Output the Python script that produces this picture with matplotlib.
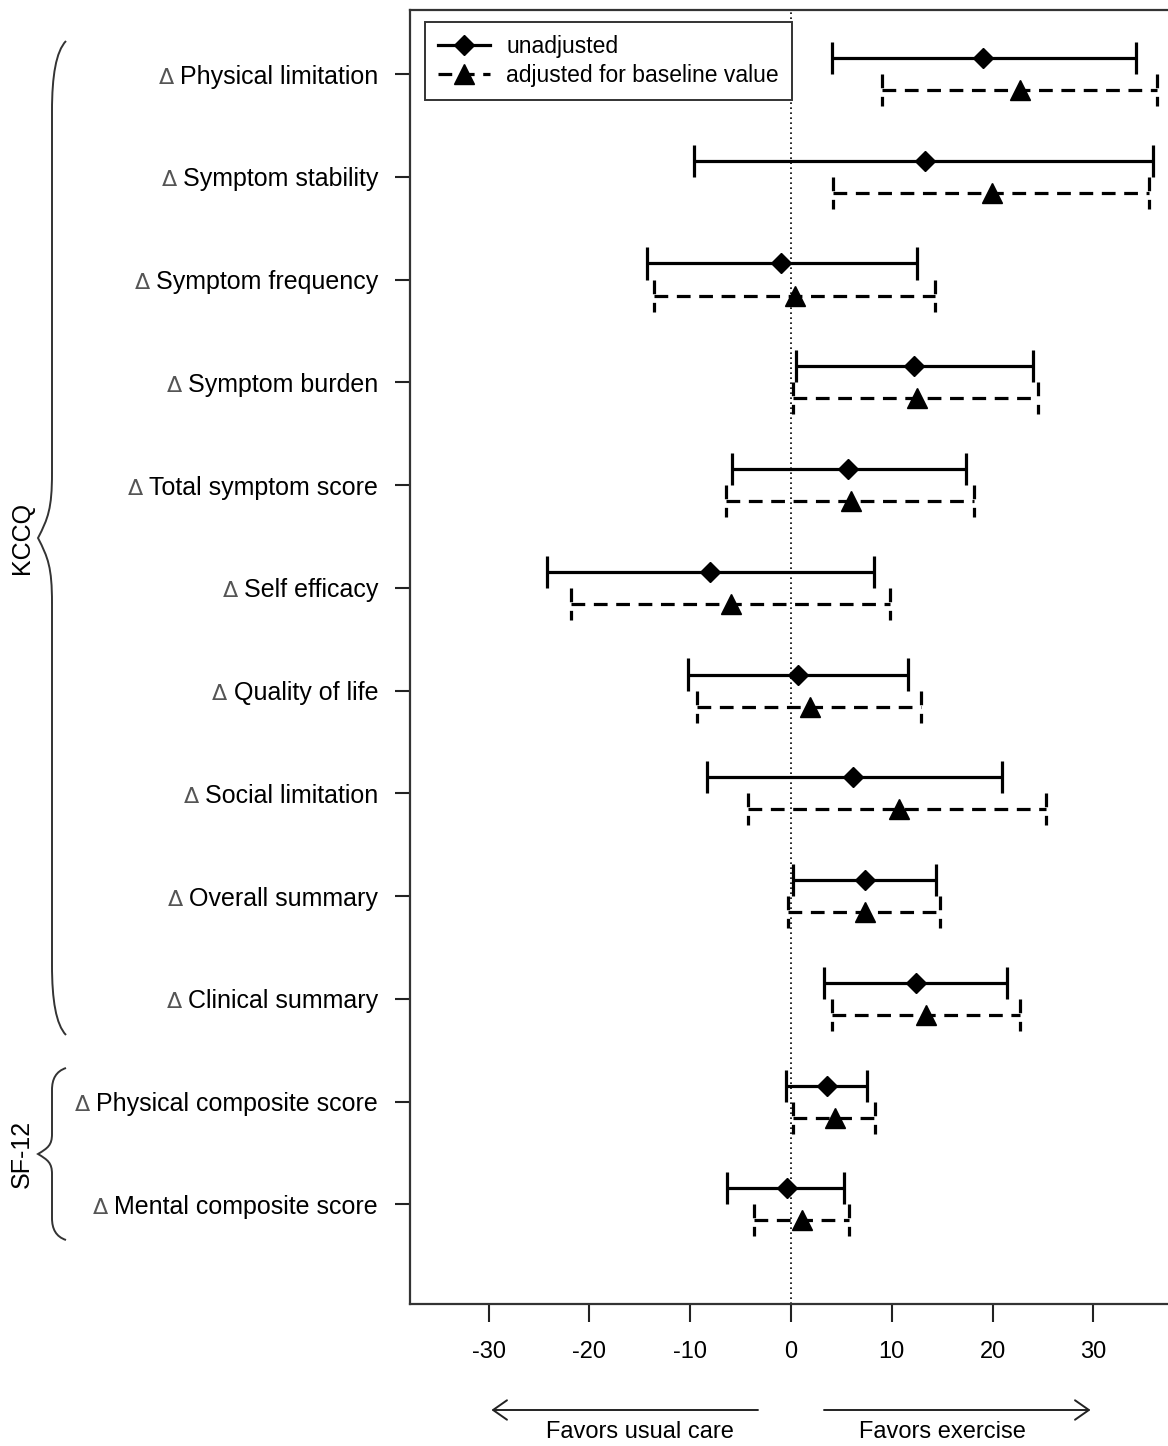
import matplotlib
matplotlib.use('Agg')
import matplotlib.pyplot as plt
import matplotlib.transforms as mtransforms
from matplotlib.path import Path
from matplotlib.patches import PathPatch
from matplotlib.lines import Line2D

plt.rcParams['font.family'] = ['Liberation Sans', 'DejaVu Sans']

# outcomes, top to bottom
labels = ['Physical limitation', 'Symptom stability', 'Symptom frequency',
          'Symptom burden', 'Total symptom score', 'Self efficacy',
          'Quality of life', 'Social limitation', 'Overall summary',
          'Clinical summary', 'Physical composite score', 'Mental composite score']

# unadjusted mean difference with 95% CI
unadj_est = [19.1, 13.3, -1.0, 12.2, 5.7, -8.0, 0.7, 6.2, 7.3, 12.4, 3.6, -0.4]
unadj_lo = [4.1, -9.6, -14.3, 0.5, -5.9, -24.2, -10.2, -8.3, 0.2, 3.3, -0.5, -6.3]
unadj_hi = [34.2, 35.9, 12.5, 24.0, 17.4, 8.2, 11.6, 20.9, 14.4, 21.4, 7.5, 5.3]

# adjusted for baseline value
adj_est = [22.7, 19.9, 0.4, 12.5, 6.0, -6.0, 1.9, 10.7, 7.3, 13.4, 4.4, 1.1]
adj_lo = [9.0, 4.2, -13.6, 0.2, -6.4, -21.8, -9.3, -4.3, -0.3, 4.1, 0.2, -3.7]
adj_hi = [36.3, 35.5, 14.3, 24.5, 18.2, 9.8, 12.9, 25.3, 14.8, 22.7, 8.3, 5.8]

xticks = [-30, -20, -10, 0, 10, 20, 30]

W, H = 1168, 1446
fig = plt.figure(figsize=(W / 100, H / 100), dpi=100)

# main axes (right edge runs just past the picture)
ax = fig.add_axes([410 / W, 1 - 1304 / H, (1175 - 410) / W, (1304 - 10) / H])
ax.set_xlim(-37.8, 38.1)
ax.set_ylim(12.97, 0.377)

rows = list(range(1, len(labels) + 1))
off = 0.156
cap = 0.156
lw = 2.3
dash = (0, (4.3, 2.7))

ax.axvline(0, color='black', lw=1.2, ls=(0, (1, 2)), zorder=1)

y_u = [r - off for r in rows]
y_a = [r + off for r in rows]

ax.hlines(y_u, unadj_lo, unadj_hi, color='black', lw=lw, zorder=2)
ax.vlines(unadj_lo, [y - cap for y in y_u], [y + cap for y in y_u], color='black', lw=lw, zorder=2)
ax.vlines(unadj_hi, [y - cap for y in y_u], [y + cap for y in y_u], color='black', lw=lw, zorder=2)
ax.plot(unadj_est, y_u, 'D', color='black', ms=10.5, zorder=3)

ax.hlines(y_a, adj_lo, adj_hi, color='black', lw=lw, linestyles=[dash], zorder=2)
ax.vlines(adj_lo, [y - cap for y in y_a], [y + cap for y in y_a], color='black', lw=lw, linestyles=[dash], zorder=2)
ax.vlines(adj_hi, [y - cap for y in y_a], [y + cap for y in y_a], color='black', lw=lw, linestyles=[dash], zorder=2)
ax.plot(adj_est, y_a, '^', color='black', ms=14, zorder=3)

ax.set_yticks(rows)
ax.set_yticklabels(labels, fontsize=18)
ax.set_xticks(xticks)
ax.set_xticklabels([str(t) for t in xticks], fontsize=17)
ax.tick_params(axis='y', length=11, width=1.5, pad=12, color='#222222')
ax.tick_params(axis='x', length=13, width=1.5, pad=14, color='#222222')
for s in ['left', 'top', 'bottom']:
    ax.spines[s].set_linewidth(1.6)
    ax.spines[s].set_color('#333333')
ax.spines['right'].set_visible(False)

handles = [
    Line2D([], [], color='black', lw=lw, marker='D', ms=10.5),
    Line2D([], [], color='black', lw=lw, ls=dash, marker='^', ms=14),
]
axw = 1175 - 410
axh = 1304 - 10
leg = ax.legend(handles, ['unadjusted', 'adjusted for baseline value'],
                loc='upper left', bbox_to_anchor=(15 / axw, 1 - 12 / axh),
                borderaxespad=0, fontsize=16.5, fancybox=False,
                edgecolor='#333333', framealpha=1, handlelength=2.3,
                handletextpad=0.7, borderpad=0.55, labelspacing=0.3)
leg.get_frame().set_linewidth(1.4)

# arrows below the axis
trans = mtransforms.blended_transform_factory(ax.transData, fig.transFigure)
ya = 1 - 1410 / H
astyle = '->,head_length=1.0,head_width=0.7'
ax.annotate('', xy=(-30, ya), xytext=(-3, ya), xycoords=trans, textcoords=trans,
            arrowprops=dict(arrowstyle=astyle, lw=1.4, color='#222222'))
ax.annotate('', xy=(30, ya), xytext=(3, ya), xycoords=trans, textcoords=trans,
            arrowprops=dict(arrowstyle=astyle, lw=1.4, color='#222222'))
yt = 1 - 1432 / H
ax.text(-15, yt, 'Favors usual care', transform=trans, ha='center', va='center', fontsize=17)
ax.text(15, yt, 'Favors exercise', transform=trans, ha='center', va='center', fontsize=17)

# overlay in pixel units for braces and group names
ov = fig.add_axes([0, 0, 1, 1], zorder=-1)
ov.set_xlim(0, W)
ov.set_ylim(H, 0)
ov.axis('off')


def brace(y0, y1, r, rm, xe=66, xl=52, xt=38):
    ym = (y0 + y1) / 2
    verts = [(xe, y0),
             (xl + 4, y0 + r * 0.15), (xl, y0 + r * 0.5), (xl, y0 + r),
             (xl, ym - rm),
             (xl, ym - rm * 0.45), (xl - 4, ym - rm * 0.3), (xt, ym),
             (xl - 4, ym + rm * 0.3), (xl, ym + rm * 0.45), (xl, ym + rm),
             (xl, y1 - r),
             (xl, y1 - r * 0.5), (xl + 4, y1 - r * 0.15), (xe, y1)]
    codes = [Path.MOVETO,
             Path.CURVE4, Path.CURVE4, Path.CURVE4,
             Path.LINETO,
             Path.CURVE4, Path.CURVE4, Path.CURVE4,
             Path.CURVE4, Path.CURVE4, Path.CURVE4,
             Path.LINETO,
             Path.CURVE4, Path.CURVE4, Path.CURVE4]
    ov.add_patch(PathPatch(Path(verts, codes), fill=False, lw=1.4, color='#333333'))


brace(41, 1035, 70, 65)
brace(1068, 1240, 22, 20)
ov.text(22, 538, 'KCCQ', rotation=90, ha='center', va='center', fontsize=18)
ov.text(22, 1154, 'SF-12', rotation=90, ha='center', va='center', fontsize=18)

# grey delta sign in front of each row label
fig.canvas.draw()
inv = ov.transData.inverted()
for tl in ax.get_yticklabels():
    bb = tl.get_window_extent()
    x0, yc = inv.transform((bb.x0, (bb.y0 + bb.y1) / 2))
    ov.text(x0 - 6, yc + 1, 'Δ', ha='right', va='center', fontsize=16,
            color='#555555', family='DejaVu Sans')

fig.savefig('out.png', dpi=100)
